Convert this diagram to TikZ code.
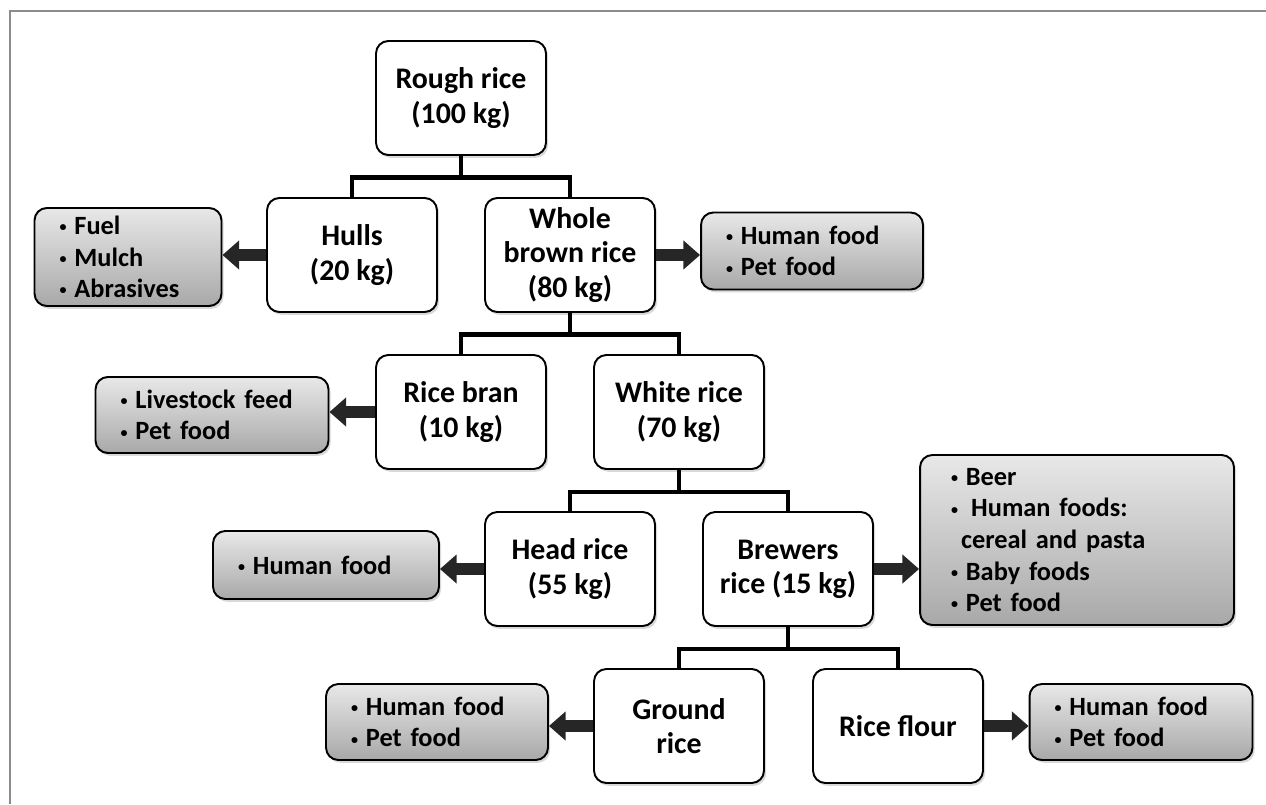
\documentclass[tikz,border=0pt]{standalone}
\usepackage{fontspec}
\setmainfont{Carlito}
\usetikzlibrary{arrows.meta,shadows}
\newcommand{\itm}{\raisebox{1.6pt}{\fontsize{8}{8}\selectfont\textbullet}\hspace{0.3em}}

\begin{document}
\begin{tikzpicture}[x=0.02cm,y=-0.02cm,line width=1.1pt,
  box/.style={draw,fill=white,rounded corners=7pt,align=center,
    font=\fontsize{17}{19.5}\selectfont\bfseries,
    minimum width=3.4cm,minimum height=2.28cm,inner sep=2pt,
    drop shadow={shadow xshift=1.2pt,shadow yshift=-1.6pt,opacity=0.3}},
  uses/.style={draw,rounded corners=7pt,top color=gray!18,bottom color=gray!68,
    font=\fontsize{15}{18}\selectfont\bfseries,
    align=left,inner xsep=0.5cm,inner ysep=2pt,
    drop shadow={shadow xshift=1.2pt,shadow yshift=-1.6pt,opacity=0.3}},
  tree/.style={line width=2.8pt},
  flow/.style={-{Triangle[length=9.5pt,width=16pt]},line width=6.5pt,black!85}]
\useasboundingbox (0,0) rectangle (1266,804);
% ---------- frame ----------
\draw[gray!90,line width=1.7pt] (10,804) -- (10,11) -- (1266,11);
% ---------- products ----------
\node[box] (rough) at (461,98) {Rough rice\\(100 kg)};
\node[box] (hulls) at (352,255) {Hulls\\(20 kg)};
\node[box] (brown) at (570,255) {Whole\\brown rice\\(80 kg)};
\node[box] (bran) at (461,412) {Rice bran\\(10 kg)};
\node[box] (white) at (679,412) {White rice\\(70 kg)};
\node[box] (head) at (570,569) {Head rice\\(55 kg)};
\node[box] (brewers) at (788,569) {Brewers\\rice (15 kg)};
\node[box] (ground) at (679,726) {Ground\\rice};
\node[box] (flour) at (898,726) {Rice flour};
% ---------- uses ----------
\node[uses,text width=2.74cm,minimum height=1.96cm] (hullsuse) at (128,257)
  {\itm Fuel\\\itm Mulch\\\itm Abrasives};
\node[uses,text width=3.44cm,minimum height=1.54cm] (brownuse) at (812,251)
  {\itm Human food\\\itm Pet food};
\node[uses,text width=3.66cm,minimum height=1.52cm] (branuse) at (212,415)
  {\itm Livestock feed\\\itm Pet food};
\node[uses,text width=3.52cm,minimum height=1.36cm] (headuse) at (326,565)
  {\itm Human food};
\node[uses,text width=5.04cm,inner xsep=0.62cm,minimum height=3.4cm] (brewuse) at (1077,540)
  {\itm Beer\\\itm\hspace{0.2em}Human foods:\\\hspace*{5.7pt}cereal and pasta\\\itm Baby foods\\\itm Pet food};
\node[uses,text width=3.44cm,minimum height=1.52cm] (grounduse) at (437,722)
  {\itm Human food\\\itm Pet food};
\node[uses,text width=3.46cm,minimum height=1.52cm] (flouruse) at (1141,722)
  {\itm Human food\\\itm Pet food};
% ---------- tree ----------
\draw[tree] (rough.south) -- ++(0,22) coordinate (j1);
\draw[tree] (hulls.north) |- (j1) -| (brown.north);
\draw[tree] (brown.south) -- ++(0,22) coordinate (j2);
\draw[tree] (bran.north) |- (j2) -| (white.north);
\draw[tree] (white.south) -- ++(0,22) coordinate (j3);
\draw[tree] (head.north) |- (j3) -| (brewers.north);
\draw[tree] (brewers.south) -- ++(0,22) coordinate (j4);
\draw[tree] (ground.north) |- (j4) -| (flour.north);
% ---------- arrows ----------
\draw[flow] (hulls.west) -- (hulls.west -| hullsuse.east);
\draw[flow] (brown.east) -- (brown.east -| brownuse.west);
\draw[flow] (bran.west) -- (bran.west -| branuse.east);
\draw[flow] (head.west) -- (head.west -| headuse.east);
\draw[flow] (brewers.east) -- (brewers.east -| brewuse.west);
\draw[flow] (ground.west) -- (ground.west -| grounduse.east);
\draw[flow] (flour.east) -- (flour.east -| flouruse.west);
\end{tikzpicture}
\end{document}
